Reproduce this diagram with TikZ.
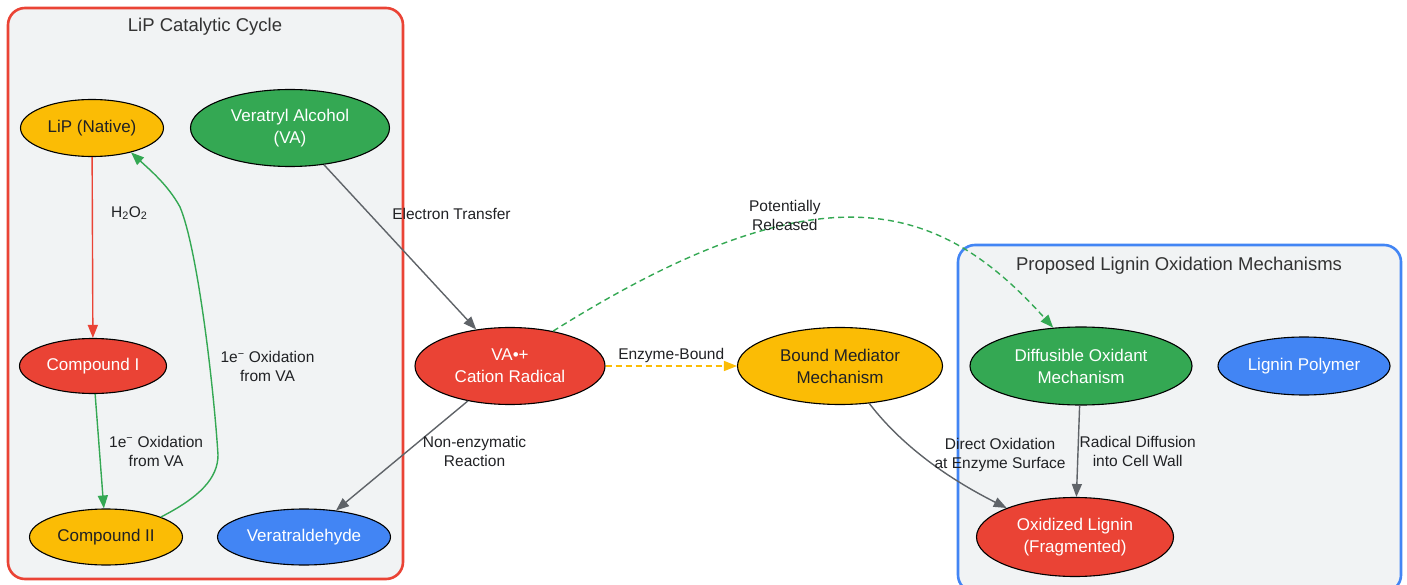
\documentclass[tikz,border=0pt]{standalone}
\usepackage{fontspec}
\setmainfont{Liberation Sans}
\usetikzlibrary{arrows.meta, positioning, shapes.geometric}
\definecolor{gred}{HTML}{EA4335}
\definecolor{ggreen}{HTML}{34A853}
\definecolor{gyellow}{HTML}{FBBC05}
\definecolor{gblue}{HTML}{4285F4}
\definecolor{ggrey}{HTML}{5F6368}
\definecolor{clusterbg}{HTML}{F1F3F4}
\definecolor{inktext}{HTML}{202124}

\begin{document}
\begin{tikzpicture} [%
    x = 1pt,
    y = -1pt,
    >= { Triangle[length=13pt, width=10pt] },
    every node/.style = {%
      align = center,
      text = inktext,
      font = \fontsize{15.5}{19.5}\selectfont },
    species/.style = {%
      ellipse,
      draw = black,
      line width = 1.1pt,
      inner sep = 0pt,
      font = \fontsize{17}{22}\selectfont },
    red species/.style    = { species, fill = gred, text = white },
    green species/.style  = { species, fill = ggreen, text = white },
    blue species/.style   = { species, fill = gblue, text = white },
    yellow species/.style = { species, fill = gyellow },
    link/.style = { ->, line width = 1.4pt },
    red link/.style    = { link, draw = gred },
    green link/.style  = { link, draw = ggreen },
    grey link/.style   = { link, draw = ggrey },
    yellow link/.style = { link, draw = gyellow },
    edge text/.style = { inner sep = 1pt },
    cluster/.style = {%
      fill = clusterbg,
      line width = 2.6pt,
      rounded corners = 17pt },
    cluster title/.style = {%
      text = black!80,
      font = \fontsize{18.5}{22}\selectfont }
  ]

  \useasboundingbox (0,0) rectangle (1407,585);

  % the two groups
  \draw[cluster, draw=gred]  (8,8) rectangle (403,579);
  \draw[cluster, draw=gblue] (958,245) rectangle (1401,592);
  \node[cluster title] (cycle) at (205,27) {LiP Catalytic Cycle};
  \node[cluster title] (mech) at (1179,266) {Proposed Lignin Oxidation Mechanisms};

  % catalytic cycle
  \node[yellow species, minimum width=143pt, minimum height=57pt] (LiP) at (92,128) {LiP (Native)};
  \node[green species, minimum width=199pt, minimum height=77pt] (VA) at (290,128) {Veratryl Alcohol\\(VA)};
  \node[red species, minimum width=147pt, minimum height=55pt] (C1) at (93,366) {Compound I};
  \node[yellow species, minimum width=153pt, minimum height=56pt] (C2) at (106,537) {Compound II};
  \node[blue species, minimum width=173pt, minimum height=56pt] (VAld) at (304,537) {Veratraldehyde};

  % radical and mechanisms
  \node[red species, minimum width=190pt, minimum height=77pt] (VArad) at (510,366) {VA•+\\Cation Radical};
  \node[yellow species, minimum width=205pt, minimum height=77pt] (BM) at (840,366) {Bound Mediator\\Mechanism};
  \node[green species, minimum width=222pt, minimum height=78pt] (DO) at (1081,366) {Diffusible Oxidant\\Mechanism};
  \node[blue species, minimum width=172pt, minimum height=58pt] (LP) at (1304,366) {Lignin Polymer};
  \node[red species, minimum width=197pt, minimum height=79pt] (OL) at (1075,537) {Oxidized Lignin\\(Fragmented)};

  \path
  (LiP) edge [red link] node[edge text, pos=0.31, right=17pt] {H\textsubscript{2}O\textsubscript{2}} (C1)
  (C1) edge [green link] node[edge text, pos=0.5, right=8pt] {1e\textsuperscript{−} Oxidation\\from VA} (C2)

  (VA) edge [grey link] node[edge text, pos=0.3, right=21pt] {Electron Transfer} (VArad)
  (VArad) edge [grey link] node[edge text, pos=0.46, right=14pt] {Non-enzymatic\\Reaction} (VAld)
  edge [yellow link, dashed, dash pattern=on 6pt off 4pt] node[edge text, above=2pt] {Enzyme-Bound} (BM)

  (DO) edge [grey link] node[edge text, pos=0.5, right=0pt] {Radical Diffusion\\into Cell Wall} (OL);

  % back to the resting enzyme
  \draw[green link] (C2.20) .. controls (200,497) and (218,478) .. (218,455)
    .. controls (214,390) and (198,250) .. (180,207)
    node[edge text, pos=0.35, right=9pt] {1e\textsuperscript{−} Oxidation\\from VA}
    .. controls (168,185) and (150,170) .. (LiP.-32);

  \draw[green link, dashed, dash pattern=on 6pt off 4pt] (VArad.39) .. controls (820,164) and (938,199) .. (DO.126)
    node[edge text, pos=0.35, yshift=10pt] {Potentially\\Released};

  \draw[grey link] (BM.-52) .. controls (905,450) and (955,482) .. (OL.157)
    node[edge text, pos=0.42, right=12pt] {Direct Oxidation\\at Enzyme Surface};

\end{tikzpicture}
\end{document}
